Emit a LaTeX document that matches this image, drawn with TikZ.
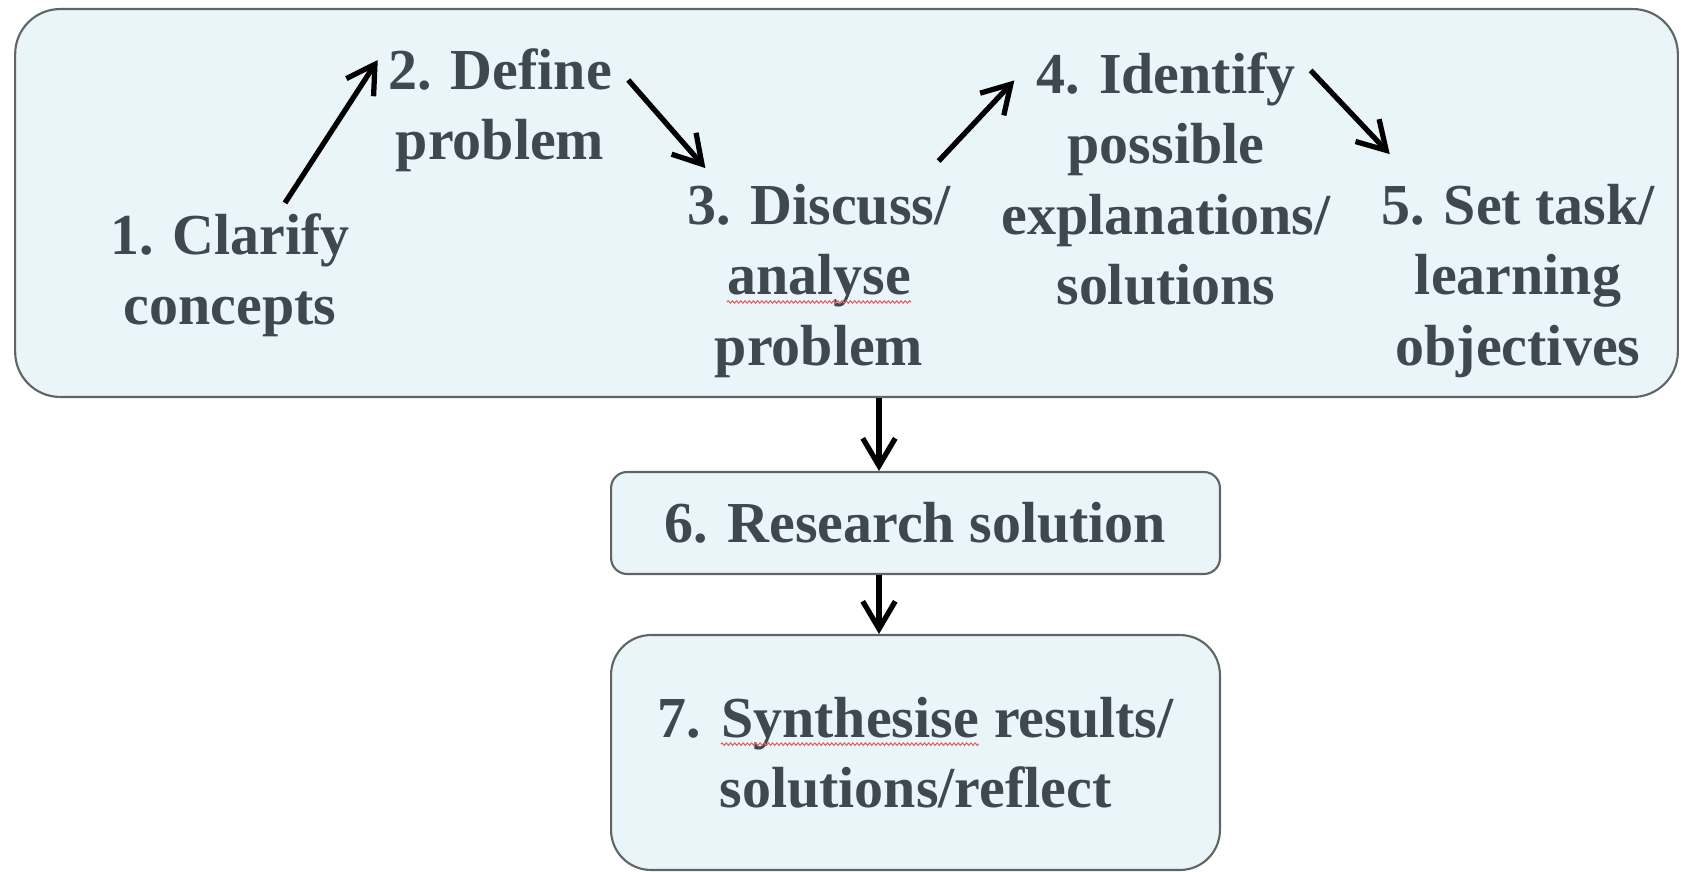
\documentclass[tikz,border=0pt]{standalone}
\usepackage{fontspec}
\setmainfont{Liberation Serif}
\usepackage{xcolor}
\usetikzlibrary{arrows.meta,decorations.pathmorphing}
\definecolor{slate}{RGB}{62,72,78}
\definecolor{paleblue}{RGB}{233,245,248}
\definecolor{boxgrey}{RGB}{95,100,102}
\definecolor{spellred}{RGB}{225,95,95}
\newcommand{\misspelt}[1]{\tikz[baseline=(word.base), x=1cm, y=1cm, sharp corners]{\node[inner sep=0pt, anchor=base, draw=none, fill=none, minimum width=0pt, minimum height=0pt] (word) {#1}; \draw[spellred, line width=0.6pt, decorate, decoration={snake, amplitude=0.7pt, segment length=2.4pt}] ([yshift=-4pt]word.base west) -- ([yshift=-4pt]word.base east);}}
\tikzset{>={Straight Barb[length=5.5mm,width=6.5mm]}}
\tikzset{%
    panel/.style={draw=boxgrey, fill=paleblue, line width=1.2pt},
    steptext/.style={text=slate, font=\fontsize{33}{40}\selectfont\bfseries, align=center, inner sep=0pt},
    flow/.style={->, line width=3pt, black}
}

\begin{document}
\begin{tikzpicture}[x=0.02cm, y=-0.02cm]
    \useasboundingbox (0,0) rectangle (1681,872);
    \node[panel, rounded corners=0.9cm, minimum width=33.26cm, minimum height=7.76cm] (cycle) at (846.5,203) {};
    \node[panel, steptext, rounded corners=0.32cm, minimum width=12.18cm, minimum height=2.04cm] (research) at (915.5,523) {6. Research solution};
    \node[panel, steptext, rounded corners=0.8cm, minimum width=12.18cm, minimum height=4.7cm] (synth) at (915.5,752.5) {7. \misspelt{Synthesise} results/\\solutions/reflect};
	\node[steptext] (clarify) at (230,275) {1. Clarify\\concepts};
	\node[steptext] (define) at (500,110) {2. Define\\problem};
	\node[steptext] (discuss) at (819,281) {3. Discuss/\\\misspelt{analyse}\\problem};
	\node[steptext] (identify) at (1166,179) {4. Identify\\possible\\explanations/\\solutions};
	\node[steptext] (settask) at (1518,281) {5. Set task/\\learning\\objectives};
    \coordinate (spine) at (879,0);
  \draw[flow] ([xshift=1.1cm,yshift=0.2cm]clarify.north) -- ([xshift=-0.2cm,yshift=1cm]define.west);
  \draw[flow] ([xshift=0.32cm,yshift=0.6cm]define.east) -- ([xshift=0.36cm,yshift=0.32cm]discuss.north west);
  \draw[flow] ([xshift=-0.24cm,yshift=0.46cm]discuss.north east) -- ([xshift=0.26cm,yshift=-0.56cm]identify.north west);
  \draw[flow] ([xshift=-0.4cm,yshift=-0.36cm]identify.north east) -- ([xshift=0.18cm,yshift=0.6cm]settask.north west);
  \draw[flow] (cycle.south -| spine) -- (research.north -| spine);
  \draw[flow] (research.south -| spine) -- (synth.north -| spine);
\end{tikzpicture}
\end{document}
